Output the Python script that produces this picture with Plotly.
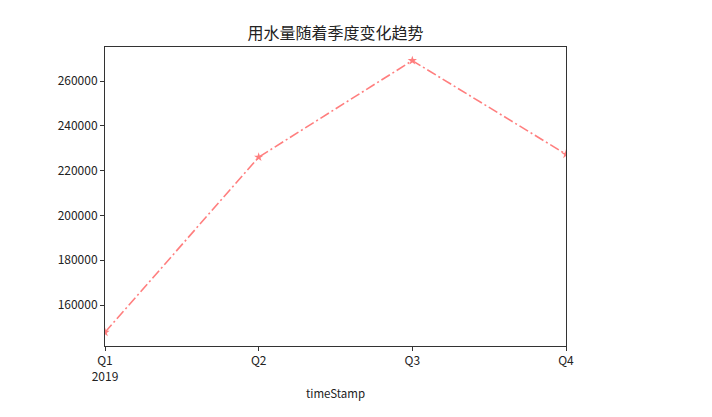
import plotly.graph_objects as go

quarters = ["Q1", "Q2", "Q3", "Q4"]
tick_labels = ["Q1<br>2019", "Q2", "Q3", "Q4"]
water_use = [147800, 226000, 269100, 227300]
y_ticks = [160000, 180000, 200000, 220000, 240000, 260000]

font_family = "Noto Sans CJK SC, DejaVu Sans, sans-serif"

fig = go.Figure()
fig.add_trace(go.Scatter(
    x=list(range(len(quarters))),
    y=water_use,
    mode="lines+markers",
    line=dict(color="red", width=1.6, dash="10px,3px,2px,3px"),
    marker=dict(symbol="star", size=7, color="red"),
    opacity=0.5,
    cliponaxis=True,
))

fig.update_layout(
    width=712, height=417,
    margin=dict(l=97, r=154, t=39, b=79),
    plot_bgcolor="white", paper_bgcolor="white",
    showlegend=False,
    title=dict(text="用水量随着季度变化趋势", x=0.5, xanchor="center",
               xref="paper", y=1 - 25/417, yanchor="middle",
               font=dict(family=font_family, size=16, color="#222")),
    font=dict(family=font_family, size=12, color="#222"),
)
fig.update_xaxes(
    range=[0, 3], tickvals=list(range(len(quarters))), ticktext=tick_labels,
    showgrid=False, zeroline=False, showline=True, linecolor="#333", linewidth=1,
    mirror=True, ticks="outside", ticklen=4, tickcolor="#333",
    title=dict(text="timeStamp", font=dict(family=font_family, size=11.5), standoff=6),
)
fig.update_yaxes(
    range=[141700, 275180], tickvals=y_ticks, tickformat="d",
    showgrid=False, zeroline=False, showline=True, linecolor="#333", linewidth=1,
    mirror=True, ticks="outside", ticklen=4, tickcolor="#333",
)

fig.write_html("out.html")
